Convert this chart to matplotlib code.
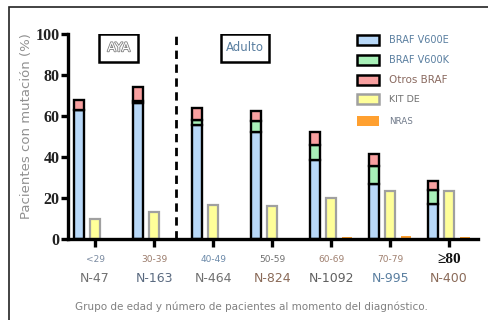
import numpy as np
import matplotlib
matplotlib.use("Agg")
import matplotlib.pyplot as plt
import matplotlib.patheffects as pe
from matplotlib.patches import Rectangle
from matplotlib.transforms import blended_transform_factory

# data
groups = ["<29", "30-39", "40-49", "50-59", "60-69", "70-79", "\u226580"]
n_counts = ["N-47", "N-163", "N-464", "N-824", "N-1092", "N-995", "N-400"]
v600e = [63, 66.5, 55.5, 52, 38.5, 27, 17]
v600k = [0, 1, 2.5, 5.5, 7.5, 8.5, 7]
otros = [5, 6.5, 6, 5, 6, 6, 4.5]
kit = [10, 13, 16.5, 16.2, 20.2, 23.2, 23.2]
nras = [0, 0, 0, 0, 1, 1.5, 1]

group_col = ["#7a8aa0", "#9a7a6a", "#6a88a8", "#707070", "#a08070", "#a08070", "#111111"]
n_col = ["#707070", "#5a6a80", "#707070", "#8a6a58", "#606060", "#5a7fa0", "#8a6a58"]

c_e, c_k, c_o, c_kit, c_n = "#b8d8f8", "#a8f0b8", "#f8a0a0", "#ffff99", "#ffa030"

fig = plt.figure(figsize=(4.89, 3.20), dpi=100)
ax = fig.add_axes([0.139, 0.253, 0.8385, 0.641])

x = np.arange(len(groups))
w = 0.16
off = 0.27
e = np.array(v600e)
k = np.array(v600k)
o = np.array(otros)

ax.bar(x - off, e, w, color=c_e, edgecolor="black", lw=1.7, zorder=3)
ax.bar(x - off, k, w, bottom=e, color=c_k, edgecolor="black", lw=1.7, zorder=3)
ax.bar(x - off, o, w, bottom=e + k, color=c_o, edgecolor="black", lw=1.7, zorder=3)
ax.bar(x, kit, w, color=c_kit, edgecolor="#a0a0a0", lw=1.6, zorder=3)
ax.bar(x + off, nras, w, color=c_n, edgecolor="none", zorder=3)

ax.set_xlim(-0.46, 6.49)
ax.set_ylim(0, 100)
for s in ["top", "right"]:
    ax.spines[s].set_visible(False)
for s in ["left", "bottom"]:
    ax.spines[s].set_linewidth(2.4)
    ax.spines[s].set_zorder(5)

ax.set_yticks([0, 20, 40, 60, 80, 100])
ax.set_yticklabels(["0", "20", "40", "60", "80", "100"],
                   fontfamily="Liberation Serif", fontweight="bold", fontsize=11.5,
                   color="#222222")
ax.tick_params(axis="y", length=5, width=2.4, pad=1)
ax.set_xticks(x)
ax.set_xticklabels([""] * len(x))
ax.tick_params(axis="x", length=6, width=2.4)

tr = blended_transform_factory(ax.transData, ax.transAxes)
for i in range(len(groups)):
    if groups[i].startswith("\u2265"):
        ax.text(x[i], -0.10, groups[i], transform=tr, ha="center", va="center",
                fontfamily="Liberation Serif", fontweight="bold", fontsize=11,
                color=group_col[i])
    else:
        ax.text(x[i], -0.10, groups[i], transform=tr, ha="center", va="center",
                fontsize=6.5, color=group_col[i])
    ax.text(x[i], -0.19, n_counts[i], transform=tr, ha="center", va="center",
            fontsize=9, color=n_col[i])

fig.text(27 / 489, 1 - 126 / 320, "Pacientes con mutación (%)", rotation=90,
         ha="center", va="center", fontsize=9.5, color="#909090")
fig.text(0.515, 0.04, "Grupo de edad y número de pacientes al momento del diagnóstico.",
         ha="center", va="center", fontsize=7.5, color="#808080")

# dashed separator
ax.axvline(1.37, ymin=0, ymax=1.0, color="black", lw=2, ls=(0, (3, 2)), zorder=2)

# AYA / Adulto boxes
ax.add_patch(Rectangle((0.07, 86.3), 0.66, 13.7, fill=False, lw=1.8,
                       edgecolor="black", zorder=4))
ax.text(0.40, 93.2, "AYA", ha="center", va="center", fontsize=9, color="white",
        path_effects=[pe.withStroke(linewidth=1.2, foreground="#808080")], zorder=5)
ax.add_patch(Rectangle((2.13, 86.3), 0.81, 13.7, fill=False, lw=1.8,
                       edgecolor="black", zorder=4))
ax.text(2.535, 93.2, "Adulto", ha="center", va="center", fontsize=8.5,
        color="#5a7fa0", zorder=5)

# legend
leg_items = [("BRAF V600E", c_e, "black", "#5a7fa0", 7),
             ("BRAF V600K", c_k, "black", "#5a7fa0", 7),
             ("Otros BRAF", c_o, "black", "#8a6a60", 7.5),
             ("KIT DE", c_kit, "#a0a0a0", "#707070", 6.8),
             ("NRAS", c_n, "none", "#707a8a", 6.3)]
lx0, lw_ = 357, 22
ys = [40, 60, 80, 99, 121]
for (lab, fc, ec, tc, fs), yy in zip(leg_items, ys):
    fig.patches.append(Rectangle((lx0 / 489, 1 - (yy + 5) / 320), lw_ / 489, 10 / 320,
                                 transform=fig.transFigure, facecolor=fc,
                                 edgecolor=ec, lw=1.8 if ec != "none" else 0))
    fig.text(389 / 489, 1 - yy / 320, lab, ha="left", va="center", fontsize=fs, color=tc)

# outer frame
fig.patches.append(Rectangle((9 / 489, -0.1), 1.2, 1.1 - 7 / 320,
                             transform=fig.transFigure, fill=False,
                             edgecolor="#222222", lw=1.2))

fig.savefig("out.png", dpi=100)
